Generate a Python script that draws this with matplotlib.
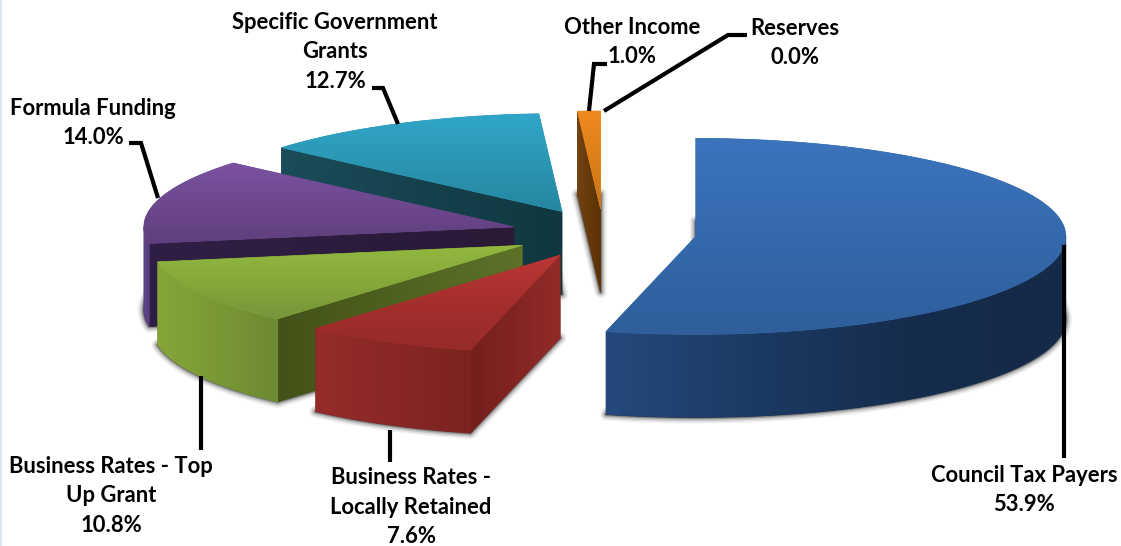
import numpy as np
import matplotlib
matplotlib.use('Agg')
import matplotlib.pyplot as plt
from matplotlib.colors import LinearSegmentedColormap
from matplotlib.patches import Polygon, Rectangle

# budget shares, clockwise from twelve o'clock
categories = ['Council Tax Payers', 'Business Rates -\nLocally Retained',
              'Business Rates - Top\nUp Grant', 'Formula Funding',
              'Specific Government\nGrants', 'Other Income', 'Reserves']
shares = [53.9, 7.6, 10.8, 14.0, 12.7, 1.0, 0.0]

g_width, g_height = 1121, 546  # Pixels
g_center = (603.5, 233.4)
g_radius = (370.0, 98.0)
g_explode = (93.0, 24.4)
g_depth = 83.0

# top (upper to lower), radial wall (left, right), rim (left to right)
g_colors = {
    'Council Tax Payers': (('#3b74bd', '#2f5e9b'), ('#1c3f6b', '#1c3f6b'),
                           ('#25497c', '#1b3a62', '#162c4c', '#152a48')),
    'Business Rates -\nLocally Retained': (('#bc3735', '#a52f2d', '#962b29'), ('#731f1c', '#912b28'),
                                           ('#962c2a', '#7b2320')),
    'Business Rates - Top\nUp Grant': (('#93b940', '#86a83a', '#76953a'), ('#435218', '#5c7229'),
                                       ('#85a63a', '#6d8a31')),
    'Formula Funding': (('#7b52a1', '#5f3f7c'), ('#2f1f46', '#2a1a35'),
                        ('#5e4386', '#5a3f80')),
    'Specific Government\nGrants': (('#30a6c8', '#26869f'), ('#1a4c5a', '#10373f'),
                                    ('#1a4c5a', '#1a4c5a')),
    'Other Income': (('#f08a20', '#c97516'), ('#73420f', '#5a3208'),
                     ('#73420f', '#73420f')),
}

# back to front
g_draw_order = ['Specific Government\nGrants', 'Formula Funding',
                'Business Rates - Top\nUp Grant',
                'Business Rates -\nLocally Retained', 'Other Income',
                'Council Tax Payers']

# leader line vertices and label anchors
g_leaders = {
    'Council Tax Payers': [(1063.5, 245), (1063.5, 458)],
    'Business Rates -\nLocally Retained': [(389.5, 430), (389.5, 462)],
    'Business Rates - Top\nUp Grant': [(200.5, 376), (200.5, 450)],
    'Formula Funding': [(129, 143), (141, 143), (158, 198)],
    'Specific Government\nGrants': [(372, 88), (383, 88), (398, 124)],
    'Other Income': [(607, 64), (594, 64), (589, 111)],
    'Reserves': [(747, 35), (728, 35), (604, 111)],
}
g_label_pos = {
    'Council Tax Payers': (1024, 490),
    'Business Rates -\nLocally Retained': (411, 507),
    'Business Rates - Top\nUp Grant': (111, 496),
    'Formula Funding': (93, 123),
    'Specific Government\nGrants': (335, 52),
    'Other Income': (632, 42),
    'Reserves': (795, 43),
}


def ellipse(apex, angles):
    x = apex[0] + g_radius[0] * np.sin(np.radians(angles))
    y = apex[1] - g_radius[1] * np.cos(np.radians(angles))
    return np.column_stack([x, y])


def gradient(ax, points, colors, zorder, vertical=False):
    # solid underlay keeps the edges free of seams
    mid = LinearSegmentedColormap.from_list('g', colors)(0.5)
    ax.add_patch(Polygon(points, closed=True, fc=mid, ec=mid, lw=0.5, zorder=zorder))
    ramp = np.linspace(0, 1, 256)
    ramp = ramp[:, None] if vertical else ramp[None, :]
    xmin, ymin = points.min(axis=0)
    xmax, ymax = points.max(axis=0)
    cmap = LinearSegmentedColormap.from_list('g', colors)
    im = ax.imshow(ramp, cmap=cmap, extent=(xmin, xmax, ymax, ymin), origin='upper',
                   aspect='auto', interpolation='bilinear', zorder=zorder + 0.1)
    im.set_clip_path(Polygon(points, closed=True, transform=ax.transData))


def shadow(ax, points):
    for lw, alpha in [(9, 0.05), (7, 0.08), (5, 0.12), (3, 0.2), (1.5, 0.3)]:
        ax.add_patch(Polygon(points, closed=True, fc='none', ec='black', lw=lw,
                             alpha=alpha, joinstyle='round', zorder=1))


def draw_slice(ax, name, start, stop, zorder):
    mid = np.radians((start + stop) / 2)
    apex = (g_center[0] + g_explode[0] * np.sin(mid),
            g_center[1] - g_explode[1] * np.cos(mid))
    arc = ellipse(apex, np.linspace(start, stop, 120))
    top = np.vstack([[apex], arc])
    down = np.array([0, g_depth])
    top_colors, wall_colors, rim_colors = g_colors[name]

    ax.add_patch(Polygon(top + down, closed=True, fc='#808080', lw=0, alpha=0.6, zorder=1))
    shadow(ax, top + down)

    # radial wall on the starting edge, seen for the slices on the left half
    if start >= 180:
        edge = np.vstack([[apex], arc[:1]])
        wall = np.vstack([edge[np.argsort(edge[:, 0])],
                          (edge + down)[np.argsort(edge[:, 0])][::-1]])
        gradient(ax, wall, wall_colors, zorder)

    # outer rim, only the front half of the ellipse shows
    lo, hi = max(start, 90), min(stop, 270)
    if lo < hi:
        front = ellipse(apex, np.linspace(lo, hi, 120))
        gradient(ax, np.vstack([front, (front + down)[::-1]]), rim_colors, zorder + 1)

    gradient(ax, top, top_colors, zorder + 2, vertical=True)


plt.rcParams['font.family'] = ['Lato', 'DejaVu Sans']
fig = plt.figure(figsize=(g_width / 100, g_height / 100), dpi=100)
ax = fig.add_axes([0, 0, 1, 1])
ax.axis('off')

stops = np.cumsum(shares) * 3.6
starts = np.concatenate([[0], stops[:-1]])
spans = {c: (a, b) for c, a, b in zip(categories, starts, stops)}

z = 2
for name in g_draw_order:
    draw_slice(ax, name, spans[name][0], spans[name][1], z)
    z += 3

ax.add_patch(Rectangle((0, 0), 2, g_height, fc='#dbe5f5', lw=0, zorder=z))

for name, share in zip(categories, shares):
    xs, ys = zip(*g_leaders[name])
    ax.plot(xs, ys, color='black', lw=3.0, solid_joinstyle='miter',
            solid_capstyle='butt', zorder=z + 1)
    ax.text(g_label_pos[name][0], g_label_pos[name][1], f'{name}\n{share:.1f}%',
            ha='center', va='center', ma='center', fontsize=15.8, fontweight='bold',
            linespacing=1.48, color='black', zorder=z + 2)

ax.set_xlim(0, g_width)
ax.set_ylim(g_height, 0)
fig.savefig('out.png', dpi=100, facecolor='white')
